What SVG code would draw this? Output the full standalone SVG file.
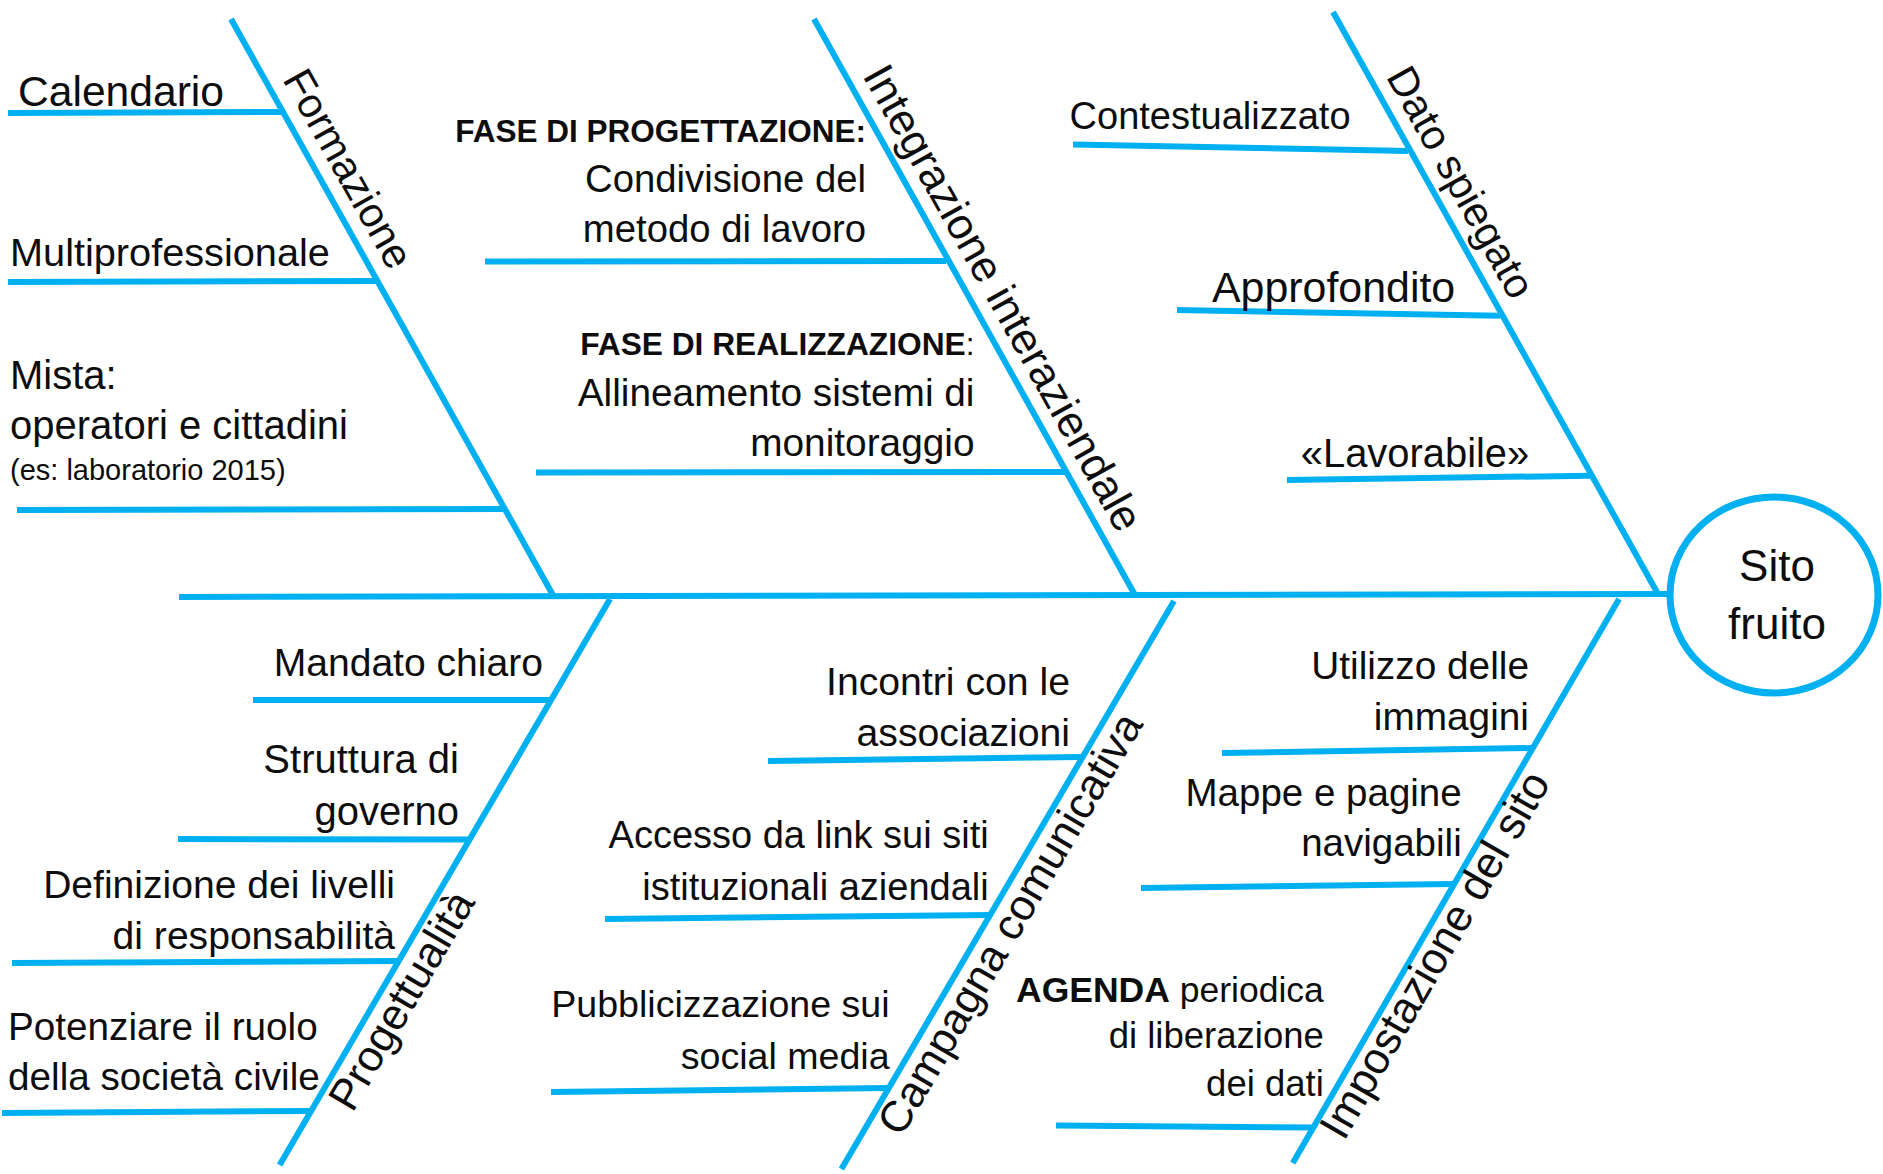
<svg xmlns="http://www.w3.org/2000/svg" width="1883" height="1174" viewBox="0 0 1883 1174">
<style>
.ln{stroke:#00B0F0;stroke-width:6;fill:none;stroke-linecap:butt}
.t{font-family:"Liberation Sans",Arial,sans-serif;fill:#0d0d0d}
.b{font-weight:bold}
.e{text-anchor:end}
.m{text-anchor:middle}
</style>
<rect x="0" y="0" width="1883" height="1174" fill="#ffffff"/>
<g id="connectors">
<path class="ln" d="M179,597 L1670,594"/>
<path class="ln" d="M231,19 L554,597"/>
<path class="ln" d="M814,19 L1135,595"/>
<path class="ln" d="M1333,12 L1658,594"/>
<path class="ln" d="M610,599 L279.6,1165"/>
<path class="ln" d="M1174,601 L841.4,1169"/>
<path class="ln" d="M1619,599 L1292.8,1163"/>
<path class="ln" d="M8,113 L283,112"/>
<path class="ln" d="M8,282 L377,281"/>
<path class="ln" d="M17,510 L504,509"/>
<path class="ln" d="M485,261.5 L946,261"/>
<path class="ln" d="M536,472.5 L1065,472"/>
<path class="ln" d="M1073,144.5 L1408,151"/>
<path class="ln" d="M1177,310 L1500,315.7"/>
<path class="ln" d="M1287,480 L1590,475.7"/>
<path class="ln" d="M253,700 L551,700"/>
<path class="ln" d="M178,839 L470,839.5"/>
<path class="ln" d="M12,963 L399,961"/>
<path class="ln" d="M2,1113 L311,1111"/>
<path class="ln" d="M768,761 L1083,757"/>
<path class="ln" d="M605,919 L990,915"/>
<path class="ln" d="M551,1092 L889,1088"/>
<path class="ln" d="M1222,753 L1533,748"/>
<path class="ln" d="M1141,888 L1454,884"/>
<path class="ln" d="M1056,1125.5 L1313,1127.5"/>
</g>
<g id="head">
<ellipse cx="1774" cy="595" rx="104" ry="98" fill="#ffffff" stroke="#00B0F0" stroke-width="7"/>
<text class="t m" x="1777" y="581" font-size="44">Sito</text>
<text class="t m" x="1777" y="639" font-size="44">fruito</text>
</g>
<g id="cat-formazione"><text class="t" font-size="41.8" transform="translate(282,79.3) rotate(60.8)">Formazione</text></g>
<g id="cat-integrazione"><text class="t" font-size="43.8" transform="translate(862,75.4) rotate(60.87)">Integrazione interaziendale</text></g>
<g id="cat-dato"><text class="t" font-size="41.8" transform="translate(1385.5,76.5) rotate(60.82)">Dato spiegato</text></g>
<g id="cat-progettualita"><text class="t" font-size="43.6" transform="translate(352.5,1113.5) rotate(-59.73)">Progettualità</text></g>
<g id="cat-campagna"><text class="t" font-size="43.6" transform="translate(901.5,1138) rotate(-59.65)">Campagna comunicativa</text></g>
<g id="cat-impostazione"><text class="t" font-size="44.2" transform="translate(1344,1142) rotate(-60.04)">Impostazione del sito</text></g>
<g id="cause-calendario"><text class="t" x="18" y="106" font-size="42.6">Calendario</text></g>
<g id="cause-multiprofessionale"><text class="t" x="10" y="266" font-size="39.7">Multiprofessionale</text></g>
<g id="cause-mista">
<text class="t" x="10" y="389" font-size="40">Mista:</text>
<text class="t" x="10" y="439" font-size="40">operatori e cittadini</text>
<text class="t" x="10" y="480" font-size="29">(es: laboratorio 2015)</text>
</g>
<g id="cause-progettazione">
<text class="t e" x="866" y="141.6" font-size="31.5"><tspan class="b">FASE DI PROGETTAZIONE:</tspan></text>
<text class="t e" x="866" y="191.5" font-size="38.3">Condivisione del</text>
<text class="t e" x="866" y="242" font-size="38.3">metodo di lavoro</text>
</g>
<g id="cause-realizzazione">
<text class="t e" x="974.5" y="355" font-size="31.7"><tspan class="b">FASE DI REALIZZAZIONE</tspan>:</text>
<text class="t e" x="974.5" y="406" font-size="38.8">Allineamento sistemi di</text>
<text class="t e" x="974.5" y="456" font-size="38.8">monitoraggio</text>
</g>
<g id="cause-contestualizzato"><text class="t" x="1069.6" y="128.5" font-size="38">Contestualizzato</text></g>
<g id="cause-approfondito"><text class="t" x="1212" y="301.5" font-size="42.9">Approfondito</text></g>
<g id="cause-lavorabile"><text class="t" x="1300.8" y="467" font-size="39.9">«Lavorabile»</text></g>
<g id="cause-mandato"><text class="t e" x="543" y="676" font-size="39.1">Mandato chiaro</text></g>
<g id="cause-struttura">
<text class="t e" x="459" y="773.4" font-size="40">Struttura di</text>
<text class="t e" x="459" y="824.5" font-size="40">governo</text>
</g>
<g id="cause-definizione">
<text class="t e" x="395" y="898" font-size="39.1">Definizione dei livelli</text>
<text class="t e" x="395" y="949" font-size="39.1">di responsabilità</text>
</g>
<g id="cause-potenziare">
<text class="t" x="8" y="1040" font-size="38.7">Potenziare il ruolo</text>
<text class="t" x="8" y="1090" font-size="38.7">della società civile</text>
</g>
<g id="cause-incontri">
<text class="t e" x="1070" y="695.3" font-size="39.2">Incontri con le</text>
<text class="t e" x="1070" y="745.8" font-size="39.2">associazioni</text>
</g>
<g id="cause-accesso">
<text class="t e" x="988.7" y="848" font-size="38">Accesso da link sui siti</text>
<text class="t e" x="988.7" y="899.5" font-size="38">istituzionali aziendali</text>
</g>
<g id="cause-pubblicizzazione">
<text class="t e" x="889.6" y="1017" font-size="37.6">Pubblicizzazione sui</text>
<text class="t e" x="889.6" y="1068.8" font-size="37.6">social media</text>
</g>
<g id="cause-utilizzo">
<text class="t e" x="1529" y="679" font-size="38.8">Utilizzo delle</text>
<text class="t e" x="1529" y="729.5" font-size="38.8">immagini</text>
</g>
<g id="cause-mappe">
<text class="t e" x="1461.7" y="805.5" font-size="38.5">Mappe e pagine</text>
<text class="t e" x="1461.7" y="856" font-size="38.5">navigabili</text>
</g>
<g id="cause-agenda">
<text class="t e" x="1323.8" y="1001.5" font-size="35.5"><tspan class="b">AGENDA</tspan> periodica</text>
<text class="t e" x="1323.8" y="1048" font-size="36.5">di liberazione</text>
<text class="t e" x="1323.8" y="1095.5" font-size="36.5">dei dati</text>
</g>
</svg>
